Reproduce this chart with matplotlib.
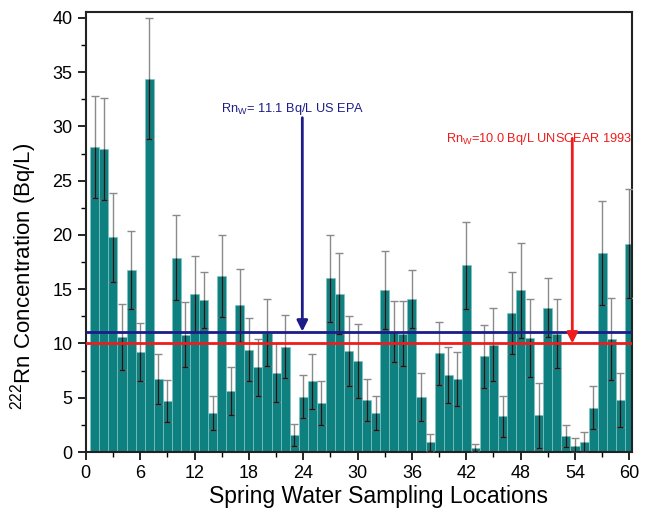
import matplotlib
matplotlib.use("Agg")
import matplotlib.pyplot as plt
import numpy as np

plt.rcParams['font.family'] = ['Liberation Sans', 'DejaVu Sans']

locations = list(range(1, 61))
radon = [28.1, 27.9, 19.8, 10.6, 16.8, 9.2, 34.4, 6.7, 4.7, 17.9,
         10.8, 14.6, 14.0, 3.6, 16.2, 5.6, 13.5, 9.4, 7.8, 11.0,
         7.3, 9.7, 1.6, 5.1, 6.5, 4.5, 16.0, 14.6, 9.3, 8.4,
         4.8, 3.6, 14.9, 11.1, 10.9, 14.1, 5.1, 0.9, 9.1, 7.1,
         6.7, 17.2, 0.4, 8.8, 9.9, 3.3, 12.8, 14.9, 10.5, 3.4,
         13.3, 10.9, 1.5, 0.6, 0.9, 4.1, 18.3, 10.4, 4.8, 19.2]
errors = [4.7, 4.7, 4.1, 3.0, 3.6, 2.7, 5.6, 2.3, 1.9, 3.9,
          3.0, 3.5, 2.6, 1.6, 3.8, 2.2, 3.4, 2.9, 2.6, 3.1,
          2.7, 2.9, 1.0, 2.0, 2.5, 2.0, 4.0, 3.7, 3.2, 3.4,
          1.9, 1.6, 3.6, 2.8, 3.0, 2.7, 2.2, 0.8, 2.9, 2.6,
          2.5, 4.0, 0.3, 2.9, 3.4, 1.9, 3.8, 4.4, 3.6, 3.0,
          2.7, 3.2, 1.0, 0.7, 0.95, 2.0, 4.8, 3.8, 2.5, 5.0]
xticks = [0, 6, 12, 18, 24, 30, 36, 42, 48, 54, 60]
yticks = [0, 5, 10, 15, 20, 25, 30, 35, 40]
epa_level = 11.1
unscear_level = 10.0
epa_label = r"Rn$_{\mathregular{W}}$= 11.1 Bq/L US EPA"
unscear_label = r"Rn$_{\mathregular{W}}$=10.0 Bq/L UNSCEAR 1993"

fig = plt.figure(figsize=(6.45, 5.16), dpi=100)
ax = fig.add_axes([0.133, 0.124, 0.847, 0.852])

x = np.array(locations)
y = np.array(radon)
e = np.array(errors)

ax.bar(x, y, width=1.0, color='#0f8080', edgecolor='#7cc4c4', linewidth=0.5, zorder=2)
ax.errorbar(x, y, yerr=e, fmt='none', ecolor='#8a8a8a', elinewidth=1.0,
            capsize=3, capthick=1.0, zorder=3)
ax.vlines(x, y - e, y, colors='#1a1a1a', linewidth=1.0, zorder=4)
ax.hlines(y - e, x - 0.33, x + 0.33, colors='#1a1a1a', linewidth=1.0, zorder=4)

ax.axhline(epa_level, color='#1c1c8a', linewidth=2, zorder=5)
ax.axhline(unscear_level, color='#ee1c1c', linewidth=2, zorder=5)

ax.annotate('', xy=(23.9, epa_level), xytext=(23.9, 30.8),
            arrowprops=dict(arrowstyle='-|>', color='#1c1c8a', lw=2, mutation_scale=16,
                            shrinkA=0, shrinkB=0), zorder=6)
ax.text(22.8, 31.3, epa_label, color='#1c1c8a', fontsize=9.2, ha='center', va='baseline')
ax.annotate('', xy=(53.7, unscear_level), xytext=(53.7, 28.9),
            arrowprops=dict(arrowstyle='-|>', color='#ee1c1c', lw=2, mutation_scale=16,
                            shrinkA=0, shrinkB=0), zorder=6)
ax.text(50.0, 28.6, unscear_label, color='#ee1c1c', fontsize=9.2, ha='center', va='baseline')

ax.set_xlim(0, 60.3)
ax.set_ylim(0, 40.5)
ax.set_xticks(xticks)
ax.set_xticks(np.arange(0, 61, 3), minor=True)
ax.set_yticks(yticks)
ax.set_yticks(np.arange(0, 41, 2.5), minor=True)
ax.tick_params(axis='both', which='major', direction='out', length=6, width=1.2, labelsize=13)
ax.tick_params(axis='both', which='minor', direction='out', length=3.5, width=1.0)
for sp in ax.spines.values():
    sp.set_linewidth(1.5)
    sp.set_color('#222222')

ax.set_xlabel('Spring Water Sampling Locations', fontsize=16.5)
ax.set_ylabel(r'$^{\mathregular{222}}$Rn Concentration (Bq/L)', fontsize=16)
ax.xaxis.set_label_coords(0.535, -0.075)
ax.yaxis.set_label_coords(-0.085, 0.40)

fig.savefig('out.png', dpi=100)
